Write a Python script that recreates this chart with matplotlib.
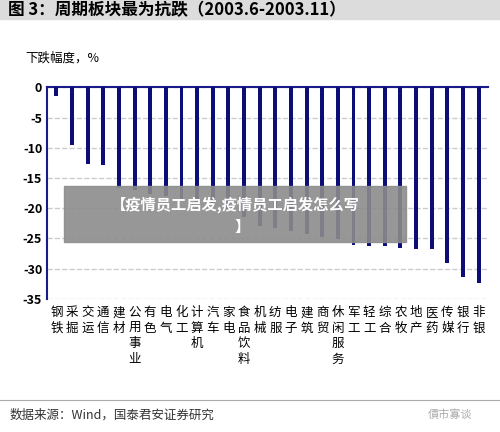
import matplotlib
matplotlib.use("Agg")
import matplotlib.pyplot as plt
from matplotlib.patches import Rectangle

plt.rcParams['font.family'] = ['Noto Sans CJK SC', 'DejaVu Sans']

categories = ["钢铁","采掘","交运","通信","建材","公用事业","有色","电气","化工","计算机","汽车","家电",
              "食品饮料","机械","纺服","电子","建筑","商贸","休闲服务","军工","轻工","综合","农牧","地产",
              "医药","传媒","银行","非银"]
values = [-1.4,-9.6,-12.7,-12.9,-16.7,-17.0,-17.6,-18.0,-18.5,-19.0,-19.6,-20.1,-21.4,-22.9,-23.3,-23.7,
          -24.2,-24.7,-25.1,-26.0,-26.2,-26.2,-26.5,-26.7,-26.8,-29.1,-31.3,-32.3]
yticks = [0,-5,-10,-15,-20,-25,-30,-35]

fig = plt.figure(figsize=(5,4.32), dpi=100)
fig.patch.set_facecolor('white')
# title bar
fig.patches.append(Rectangle((0,0.955),1,0.045, transform=fig.transFigure, color='#dcdcdc', zorder=0))
fig.text(0.015,0.977,"图 3：周期板块最为抗跌（2003.6-2003.11）", fontsize=12, fontweight='bold', va='center')
fig.text(0.05,0.865,"下跌幅度，%", fontsize=9, va='center')
fig.text(0.02,0.04,"数据来源：Wind，国泰君安证券研究", fontsize=9, va='center', color='#333333')
fig.lines.append(plt.Line2D([0,1],[0.075,0.075], transform=fig.transFigure, color='#aaaaaa', lw=0.8))

ax = fig.add_axes([0.094, 0.308, 0.882, 0.49])
x = range(len(categories))
ax.bar(x, values, width=0.25, color='#0d0d7a', zorder=3)
ax.set_ylim(-35,0)
ax.set_xlim(-0.6, len(categories)-0.4)
ax.set_yticks(yticks)
ax.set_yticklabels([str(t) for t in yticks], fontsize=9, fontweight='bold')
ax.yaxis.grid(True, ls='--', color='#cccccc', lw=1, zorder=0)
ax.xaxis.tick_top()
ax.set_xticks(list(x))
ax.set_xticklabels([])
ax.tick_params(axis='x', length=3, direction='in', color='#1a1a8a')
ax.tick_params(axis='y', length=0)
for s in ['right','bottom']:
    ax.spines[s].set_visible(False)
ax.spines['top'].set_color('#1a1a8a')
ax.spines['left'].set_color('#1a1a8a')
ax.spines['top'].set_linewidth(1.5)
ax.spines['left'].set_linewidth(1.5)
for i, c in enumerate(categories):
    ax.text(i, -36.2, "\n".join(c), ha='center', va='top', fontsize=9, linespacing=1.25)

# overlay banner
fig.patches.append(Rectangle((0.128,0.44),0.684,0.13, transform=fig.transFigure, color='#8c8c8c', alpha=0.9, zorder=5))
fig.text(0.47,0.527,"【疫情员工启发,疫情员工启发怎么写", fontsize=11, fontweight='bold', color='white', ha='center', va='center', zorder=6)
fig.text(0.485,0.475,"】", fontsize=11, fontweight='bold', color='white', ha='center', va='center', zorder=6)
fig.text(0.9,0.04,"債市寡谈", fontsize=8, color='#aaaaaa', ha='center', va='center')

fig.savefig("out.png", dpi=100)
